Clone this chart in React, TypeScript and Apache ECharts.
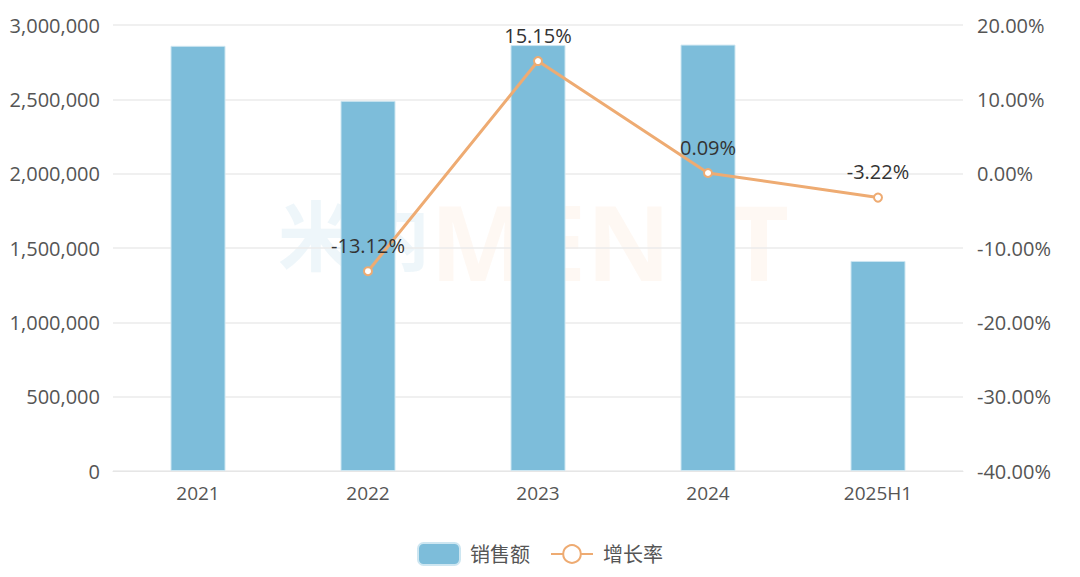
import React, { useEffect, useRef } from "react";
import * as echarts from "echarts";

const categories = ["2021", "2022", "2023", "2024", "2025H1"];
const salesValues = [2860000, 2490000, 2865000, 2868000, 1413000];
const growthValues: (number | string)[] = ["-", -13.12, 15.15, 0.09, -3.22];
const seriesNames = ["销售额", "增长率"];
const watermarkParts = ["米内", "MENET"];

const FONT = "'Open Sans', 'Noto Sans CJK SC', sans-serif";

export default function App() {
  const ref = useRef<HTMLDivElement>(null);
  useEffect(() => {
    if (!ref.current) return;
    const chart = echarts.init(ref.current, null, { renderer: "svg" });
    chart.setOption({
      animation: false,
      textStyle: { fontFamily: FONT },
      grid: { left: 113, right: 117, top: 25, bottom: 106 },
      legend: {
        bottom: 6,
        left: "center",
        itemWidth: 42,
        itemHeight: 22,
        itemGap: 20,
        textStyle: { fontSize: 20, color: "#555", fontFamily: FONT, padding: [0, 0, 0, 5] },
        data: seriesNames,
      },
      xAxis: {
        type: "category",
        data: categories,
        axisLine: { lineStyle: { color: "#e6e6e6" } },
        axisTick: { show: false },
        axisLabel: { fontSize: 19, color: "#555", margin: 12 },
      },
      yAxis: [
        {
          type: "value",
          min: 0,
          max: 3000000,
          interval: 500000,
          axisLine: { show: false },
          axisTick: { show: false },
          splitLine: { lineStyle: { color: "#ebebeb", width: 1.5 } },
          axisLabel: {
            fontSize: 20,
            color: "#555",
            margin: 13,
            formatter: (v: number) => v.toLocaleString("en-US"),
          },
        },
        {
          type: "value",
          min: -40,
          max: 20,
          interval: 10,
          axisLine: { show: false },
          axisTick: { show: false },
          splitLine: { show: false },
          axisLabel: {
            fontSize: 20,
            color: "#555",
            margin: 14,
            formatter: (v: number) => v.toFixed(2) + "%",
          },
        },
      ],
      series: [
        {
          name: seriesNames[0],
          type: "bar",
          data: salesValues,
          barWidth: 55,
          itemStyle: { color: "#7dbdda", borderColor: "#cde6f1", borderWidth: 1 },
        },
        {
          name: seriesNames[1],
          type: "line",
          yAxisIndex: 1,
          data: growthValues,
          symbol: "emptyCircle",
          symbolSize: 8,
          lineStyle: { color: "#eeab72", width: 3 },
          itemStyle: { color: "#eeab72", borderWidth: 2 },
          label: {
            show: true,
            position: "top",
            distance: 11,
            fontSize: 20,
            color: "#333",
            formatter: (p: any) => Number(p.value).toFixed(2) + "%",
          },
        },
      ],
      graphic: [
        {
          type: "group",
          left: 278,
          top: 188,
          z: 100,
          silent: true,
          children: [
            {
              type: "text",
              x: 0,
              y: 6,
              style: {
                text: watermarkParts[0],
                fontSize: 76,
                fontWeight: "bold",
                fontFamily: "'Noto Sans CJK SC', sans-serif",
                fill: "rgba(125,189,218,0.13)",
              },
            },
            {
              type: "text",
              x: 152,
              y: 0,
              style: {
                text: watermarkParts[1],
                fontSize: 104,
                fontWeight: "bold",
                fontFamily: "'Noto Sans', sans-serif",
                fill: "rgba(240,160,100,0.08)",
              },
            },
          ],
        },
      ],
    });
    return () => chart.dispose();
  }, []);
  return <div ref={ref} style={{ width: 1080, height: 577, margin: -8 }} />;
}
